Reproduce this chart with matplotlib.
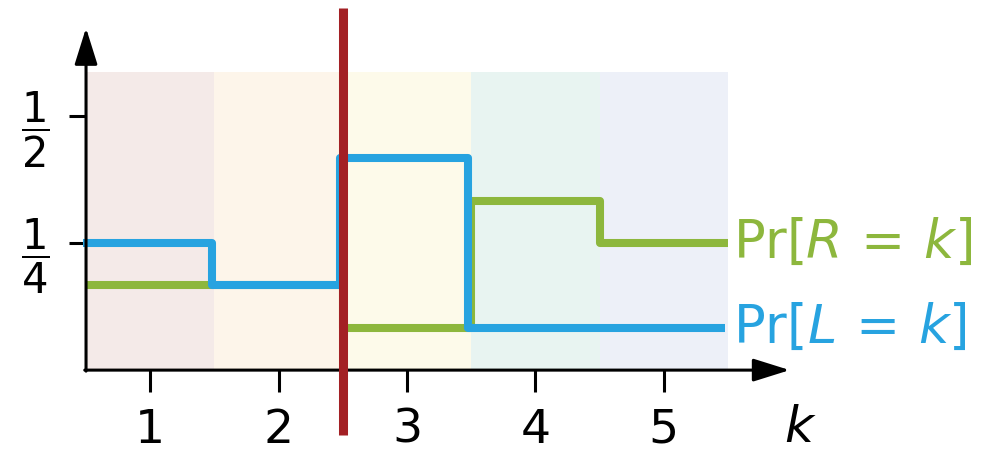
import matplotlib
matplotlib.use("Agg")
import matplotlib.pyplot as plt
import numpy as np

plt.rcParams['font.family'] = ['DejaVu Sans']
plt.rcParams['mathtext.fontset'] = 'dejavusans'

# Data
k_values = [1, 2, 3, 4, 5]
pr_L = [1/4, 1/6, 5/12, 1/12, 1/12]
pr_R = [1/6, 1/6, 1/12, 1/3, 1/4]
ytick_vals = [0.25, 0.5]
ytick_labels = [r'$\dfrac{1}{4}$', r'$\dfrac{1}{2}$']
xtick_labels = ['1', '2', '3', '4', '5']
split_x = 2.5
label_R = r'$\mathrm{Pr}[R\,=\,k]$'
label_L = r'$\mathrm{Pr}[L\,=\,k]$'

# Styles
blue = '#27A3E0'
green = '#8DB73D'
red = '#A32024'
band_colors = ['#F4EAE8', '#FDF5EA', '#FDFAEA', '#E8F4F1', '#EDF0F8']
band_top = 0.587

fig = plt.figure(figsize=(9.94, 4.54), dpi=100)
ax = fig.add_axes([0, 0, 1, 1])
ax.set_xlim(-0.170, 7.571)
ax.set_ylim(-0.165, 0.728)

# background bands
ax.bar(k_values, [band_top] * len(k_values), width=1.0, bottom=0,
       color=band_colors, edgecolor='none', zorder=0)

edges = np.array([k - 0.5 for k in k_values] + [k_values[-1] + 0.5])
sR = ax.stairs(pr_R, edges, baseline=None, color=green, lw=5.8, zorder=2)
sL = ax.stairs(pr_L, edges - 0.022, baseline=None, color=blue, lw=5.8, zorder=3)
for s in (sR, sL):
    s.set_joinstyle('round')
    s.set_capstyle('butt')

# red vertical split line
ax.plot([split_x, split_x], [-0.128, 0.713], color=red, lw=6.5,
        solid_capstyle='butt', zorder=5)

# axes with arrows
for sp in ax.spines.values():
    sp.set_visible(False)
ax.spines['left'].set_position(('data', 0.5))
ax.spines['bottom'].set_position(('data', 0))

arrow_kw = dict(arrowstyle='-|>,head_length=1.5,head_width=0.47',
                mutation_scale=15, lw=2.2, color='black',
                shrinkA=0, shrinkB=0)
ax.annotate('', xy=(5.98, 0), xytext=(0.49, 0), arrowprops=arrow_kw, zorder=4)
ax.annotate('', xy=(0.5, 0.673), xytext=(0.5, -0.002), arrowprops=arrow_kw, zorder=4)

ax.set_xticks(k_values)
ax.set_xticklabels(xtick_labels, fontsize=34)
ax.set_yticks(ytick_vals)
ax.set_yticklabels(ytick_labels, fontsize=30)
ax.tick_params(axis='x', direction='out', length=16, width=2.2, pad=11)
ax.tick_params(axis='y', direction='out', length=12, width=2.2, pad=14)

# series labels
ax.text(5.54, pr_R[-1], label_R, color=green, fontsize=38, va='center', ha='left')
ax.text(5.54, pr_L[-1], label_L, color=blue, fontsize=38, va='center', ha='left')

# x label
ax.text(6.06, -0.113, r'$k$', fontsize=36, ha='center', va='center')

fig.savefig('out.png', dpi=100)
